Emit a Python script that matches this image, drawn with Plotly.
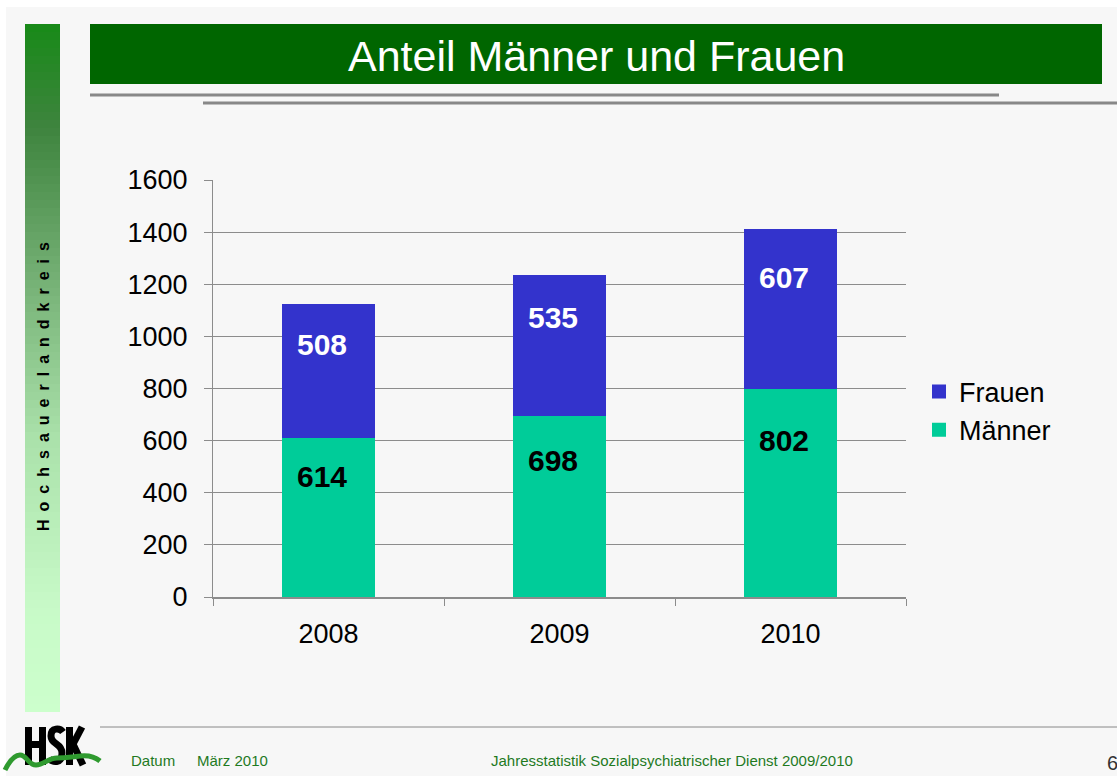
import plotly.graph_objects as go

# ---- data ----
years = ["2008", "2009", "2010"]
maenner = [614, 698, 802]
frauen = [508, 535, 607]
y_ticks = [0, 200, 400, 600, 800, 1000, 1200, 1400, 1600]

title_text = "Anteil Männer und Frauen"
side_text = "Hochsauerlandkreis"
footer_left = "Datum"
footer_date = "März 2010"
footer_center = "Jahresstatistik Sozialpsychiatrischer Dienst 2009/2010"
page_no = "6"

C_M = "#00cc99"
C_F = "#3333cc"
FONT = "Liberation Sans, Arial, sans-serif"

W, H = 1117, 776
L, R, T, B = 213, 906, 180, 597


def px(x):
    return (x - L) / (R - L)


def py(y):
    return (B - y) / (B - T)


def path(cmds):
    s = ""
    for c, pts in cmds:
        s += c
        coords = []
        for i in range(0, len(pts), 2):
            coords.append(f"{px(pts[i]):.5f},{py(pts[i+1]):.5f}")
        s += " ".join(coords) + " "
    return s.strip()


fig = go.Figure()
fig.add_trace(go.Bar(x=years, y=maenner, name="Männer", marker_color=C_M,
                     marker_line=dict(color=C_M, width=2), width=0.392))
fig.add_trace(go.Bar(x=years, y=frauen, name="Frauen", marker_color=C_F,
                     marker_line=dict(color=C_F, width=2), width=0.392))

shapes = []
# white strips at page edge
shapes.append(dict(type="rect", xref="paper", yref="paper", x0=px(0), x1=px(W), y0=py(0), y1=py(7),
                   fillcolor="white", line_width=0, layer="below"))
shapes.append(dict(type="rect", xref="paper", yref="paper", x0=px(0), x1=px(6), y0=py(0), y1=py(H),
                   fillcolor="white", line_width=0, layer="below"))

# sidebar gradient
stops = [(0.0, (24, 138, 24)), (0.15, (62, 132, 62)), (0.35, (112, 172, 112)),
         (0.6, (170, 225, 170)), (0.85, (200, 250, 200)), (1.0, (204, 255, 204))]


def grad(t):
    for i in range(len(stops) - 1):
        t0, c0 = stops[i]
        t1, c1 = stops[i + 1]
        if t0 <= t <= t1:
            f = (t - t0) / (t1 - t0)
            return "rgb(%d,%d,%d)" % tuple(round(c0[k] + f * (c1[k] - c0[k])) for k in range(3))
    return "rgb(204,255,204)"


sy0, sy1 = 24, 712
n = 86
step = (sy1 - sy0) / n
for i in range(n):
    ya = sy0 + i * step
    yb = ya + step + 0.6
    shapes.append(dict(type="rect", xref="paper", yref="paper", x0=px(25), x1=px(60),
                       y0=py(min(yb, sy1)), y1=py(ya), fillcolor=grad((i + 0.5) / n),
                       line_width=0, layer="below"))

# title bar
shapes.append(dict(type="rect", xref="paper", yref="paper", x0=px(90), x1=px(1102), y0=py(84), y1=py(24),
                   fillcolor="#006600", line_width=0, layer="below"))
# gray rules under title
shapes.append(dict(type="line", xref="paper", yref="paper", x0=px(90), x1=px(999), y0=py(95), y1=py(95),
                   line=dict(color="#888888", width=3)))
shapes.append(dict(type="line", xref="paper", yref="paper", x0=px(203), x1=px(1117), y0=py(103), y1=py(103),
                   line=dict(color="#888888", width=3)))
# footer rule
shapes.append(dict(type="line", xref="paper", yref="paper", x0=px(100), x1=px(1117), y0=py(727), y1=py(727),
                   line=dict(color="#888888", width=1)))

# HSK logo letters
blk = dict(color="black", width=7)
# H
shapes.append(dict(type="rect", xref="paper", yref="paper", x0=px(25), x1=px(32), y0=py(765), y1=py(727),
                   fillcolor="black", line_width=0))
shapes.append(dict(type="rect", xref="paper", yref="paper", x0=px(39), x1=px(46), y0=py(765), y1=py(727),
                   fillcolor="black", line_width=0))
shapes.append(dict(type="rect", xref="paper", yref="paper", x0=px(31), x1=px(40), y0=py(748), y1=py(741),
                   fillcolor="black", line_width=0))
# S
shapes.append(dict(type="path", xref="paper", yref="paper",
                   path=path([("M", [63, 732]), ("C", [60, 728, 51, 727, 51, 736]),
                              ("C", [51, 745, 62, 743, 62, 753]), ("C", [62, 764, 52, 763, 49, 758])]),
                   line=blk))
# K
shapes.append(dict(type="rect", xref="paper", yref="paper", x0=px(66), x1=px(73), y0=py(765), y1=py(727),
                   fillcolor="black", line_width=0))
shapes.append(dict(type="path", xref="paper", yref="paper",
                   path=path([("M", [71, 748]), ("L", [82, 727])]), line=blk))
shapes.append(dict(type="path", xref="paper", yref="paper",
                   path=path([("M", [72, 742]), ("L", [83, 765])]), line=blk))
# green wave
shapes.append(dict(type="path", xref="paper", yref="paper",
                   path=path([("M", [5, 770]), ("C", [10, 760, 15, 755, 20, 755]),
                              ("C", [27, 755, 28, 765, 36, 765]), ("C", [44, 765, 48, 758, 57, 758]),
                              ("C", [66, 758, 70, 757, 80, 756]), ("C", [88, 755, 95, 757, 100, 761])]),
                   line=dict(color="#2f9a2f", width=5)))

annotations = []
annotations.append(dict(xref="paper", yref="paper", x=px(596), y=py(56), text=title_text, showarrow=False,
                        xanchor="center", yanchor="middle", font=dict(family=FONT, size=43, color="white")))
annotations.append(dict(xref="paper", yref="paper", x=px(43), y=py(387), text="\u2002".join(side_text),
                        showarrow=False, textangle=-90, xanchor="center", yanchor="middle",
                        font=dict(family=FONT, size=16, color="black", weight="bold")))
annotations.append(dict(xref="paper", yref="paper", x=px(129), y=py(760), text=footer_left, showarrow=False,
                        xanchor="left", yanchor="middle", font=dict(family=FONT, size=15, color="#1f7a1f")))
annotations.append(dict(xref="paper", yref="paper", x=px(195), y=py(760), text=footer_date, showarrow=False,
                        xanchor="left", yanchor="middle", font=dict(family=FONT, size=15, color="#1f7a1f")))
annotations.append(dict(xref="paper", yref="paper", x=px(672), y=py(760), text=footer_center, showarrow=False,
                        xanchor="center", yanchor="middle", font=dict(family=FONT, size=15, color="#1f7a1f")))
annotations.append(dict(xref="paper", yref="paper", x=px(1105), y=py(763), text=page_no, showarrow=False,
                        xanchor="left", yanchor="middle", font=dict(family=FONT, size=20, color="#333333")))

# data labels (category index positions)
for i, (m, f) in enumerate(zip(maenner, frauen)):
    annotations.append(dict(x=i, y=m * 0.75, xref="x", yref="y", text=str(m), showarrow=False, xshift=-7,
                            font=dict(family=FONT, size=30, color="black", weight="bold")))
    annotations.append(dict(x=i, y=m + f * 0.7, xref="x", yref="y", text=str(f), showarrow=False, xshift=-7,
                            font=dict(family=FONT, size=30, color="white", weight="bold")))

fig.update_layout(
    width=W, height=H, autosize=False,
    margin=dict(l=L, r=W - R, t=T, b=H - B, pad=0),
    paper_bgcolor="#f7f7f7", plot_bgcolor="rgba(0,0,0,0)",
    barmode="stack", bargap=0.6,
    font=dict(family=FONT, size=27, color="black"),
    showlegend=True,
    legend=dict(x=px(919), y=py(411), xanchor="left", yanchor="middle", traceorder="reversed",
                bgcolor="rgba(0,0,0,0)", font=dict(family=FONT, size=27, color="black"),
                itemwidth=30, tracegroupgap=0),
    shapes=shapes, annotations=annotations,
)
fig.update_yaxes(range=[0, 1600], autorange=False, tickvals=y_ticks, showgrid=True, gridcolor="#8c8c8c",
                 gridwidth=1, showline=True, linecolor="#8c8c8c", linewidth=1, ticks="outside", ticklen=8,
                 tickcolor="#8c8c8c", ticklabelstandoff=11, zeroline=False,
                 tickfont=dict(family=FONT, size=27, color="black"), fixedrange=True)
fig.update_xaxes(type="category", categoryorder="array", categoryarray=years, range=[-0.5, 2.5],
                 autorange=False, showline=True, linecolor="#8c8c8c", linewidth=2, ticks="outside", ticklen=7,
                 tickcolor="#8c8c8c", tickson="boundaries", ticklabelstandoff=12, tickangle=0,
                 tickfont=dict(family=FONT, size=27, color="black"), fixedrange=True)

fig.write_html("out.html", post_script="document.body.style.margin='0';document.body.style.padding='0';",
               config={"displayModeBar": False})
